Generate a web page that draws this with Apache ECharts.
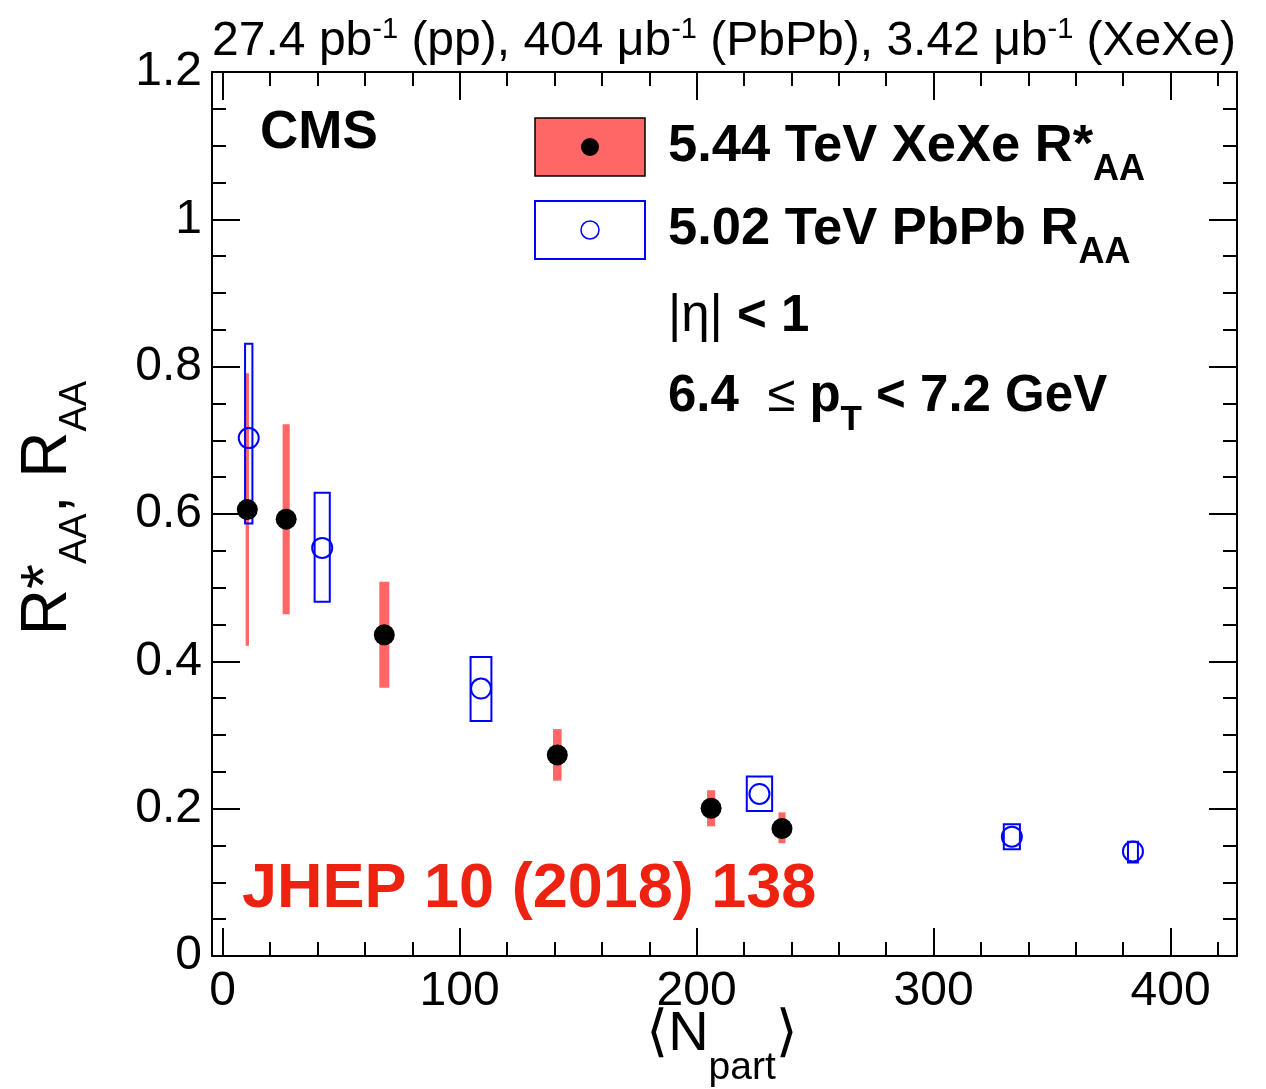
<!DOCTYPE html>
<html>
<head>
<meta charset="utf-8">
<script src="https://cdn.jsdelivr.net/npm/echarts@6/dist/echarts.min.js"></script>
<style>
html, body { margin: 0; padding: 0; background: #fff; }
#main { width: 1266px; height: 1089px; }
</style>
</head>
<body>
<div id="main"></div>
<script>
// XeXe 5.44 TeV, R*AA vs <Npart>
const xeNpart = [10.4, 26.8, 68.2, 141.2, 206.1, 236.0];
const xeRaa = [0.606, 0.593, 0.436, 0.273, 0.2005, 0.173];
const xeErrLow = [0.421, 0.464, 0.364, 0.238, 0.176, 0.153];
const xeErrHigh = [0.791, 0.722, 0.508, 0.308, 0.225, 0.195];
const xeNpartErr = [0.7, 1.5, 2.1, 1.8, 1.7, 1.5];

// PbPb 5.02 TeV, RAA vs <Npart>
const pbNpart = [11.0, 42.0, 109.0, 226.5, 333.0, 384.1];
const pbRaa = [0.703, 0.554, 0.363, 0.220, 0.162, 0.142];
const pbSysLow = [0.587, 0.481, 0.319, 0.197, 0.145, 0.127];
const pbSysHigh = [0.831, 0.629, 0.406, 0.2435, 0.179, 0.155];
const pbNpartErr = [1.55, 3.2, 4.4, 5.35, 3.4, 2.1];

// Axis ticks
const xMajorTicks = [0, 100, 200, 300, 400];
const xMinorTicks = [20, 40, 60, 80, 120, 140, 160, 180, 220, 240, 260, 280, 320, 340, 360, 380, 420];

const FONT = '"Liberation Sans", Helvetica, Arial, sans-serif';
const RED = '#ff6666';
const BLUE = '#0000ff';

const chart = echarts.init(document.getElementById('main'));

const gridBox = { left: 212, right: 29, top: 72, bottom: 133 };
const lineStyle = { color: '#000', width: 2 };

function xAxisFor(grid, position, ticks, len, showLine, showLabel) {
    return {
        type: 'value',
        gridIndex: grid,
        position: position,
        min: -4.5,
        max: 428,
        axisLine: { show: showLine, onZero: false, lineStyle: lineStyle },
        axisTick: { show: true, inside: true, length: len, customValues: ticks, lineStyle: lineStyle },
        axisLabel: {
            show: showLabel,
            customValues: ticks,
            fontSize: 48,
            fontFamily: FONT,
            color: '#000',
            margin: 12
        },
        splitLine: { show: false }
    };
}

function yAxisFor(grid, position, showLabel, show) {
    return {
        type: 'value',
        gridIndex: grid,
        position: position,
        show: show,
        min: 0,
        max: 1.2,
        interval: 0.2,
        axisLine: { show: true, onZero: false, lineStyle: lineStyle },
        axisTick: { show: true, inside: true, length: 28, lineStyle: lineStyle },
        minorTick: { show: true, splitNumber: 4, length: 14, lineStyle: lineStyle },
        axisLabel: {
            show: showLabel,
            fontSize: 48,
            fontFamily: FONT,
            color: '#000',
            margin: 10
        },
        splitLine: { show: false },
        minorSplitLine: { show: false }
    };
}

const xeBars = xeNpart.map((n, i) => [n, xeErrLow[i], xeErrHigh[i], xeNpartErr[i]]);
const pbBoxes = pbNpart.map((n, i) => [n, pbSysLow[i], pbSysHigh[i], pbNpartErr[i]]);

function boxRenderer(style) {
    return function (params, api) {
        const x = api.value(0), lo = api.value(1), hi = api.value(2), dx = api.value(3);
        const p1 = api.coord([x - dx, hi]);
        const p2 = api.coord([x + dx, lo]);
        return {
            type: 'rect',
            shape: { x: p1[0], y: p1[1], width: p2[0] - p1[0], height: p2[1] - p1[1] },
            style: style
        };
    };
}

const main = { fontFamily: FONT, fontSize: 48, lineHeight: 56, fill: '#000' };
const sup = { fontFamily: FONT, fontSize: 29, lineHeight: 56, padding: [0, 0, 24, 0] };

const entB = { fontFamily: FONT, fontSize: 52.5, fontWeight: 'bold', lineHeight: 60 };
const entSub = { fontFamily: FONT, fontSize: 36, fontWeight: 'bold', lineHeight: 60, padding: [46, 0, 0, 0] };
const legB = { fontFamily: FONT, fontSize: 51, fontWeight: 'bold', lineHeight: 60 };
const legR = { fontFamily: FONT, fontSize: 51, lineHeight: 60 };
const legSub = { fontFamily: FONT, fontSize: 35, fontWeight: 'bold', lineHeight: 60, padding: [46, 0, 0, 0] };

const option = {
    animation: false,
    backgroundColor: '#fff',
    grid: [
        Object.assign({}, gridBox),
        Object.assign({}, gridBox)
    ],
    xAxis: [
        xAxisFor(0, 'bottom', xMajorTicks, 28, true, true),
        xAxisFor(0, 'top', xMajorTicks, 28, true, false),
        xAxisFor(1, 'bottom', xMinorTicks, 14, false, false),
        xAxisFor(1, 'top', xMinorTicks, 14, false, false)
    ],
    yAxis: [
        yAxisFor(0, 'left', true, true),
        yAxisFor(0, 'right', false, true),
        yAxisFor(1, 'left', false, false)
    ],
    series: [
        {
            name: 'XeXe stat',
            type: 'custom',
            xAxisIndex: 0,
            yAxisIndex: 0,
            z: 2,
            renderItem: boxRenderer({ fill: RED }),
            encode: { x: 0, y: [1, 2] },
            data: xeBars
        },
        {
            name: 'PbPb sys',
            type: 'custom',
            xAxisIndex: 0,
            yAxisIndex: 0,
            z: 3,
            renderItem: boxRenderer({ fill: 'none', stroke: BLUE, lineWidth: 2 }),
            encode: { x: 0, y: [1, 2] },
            data: pbBoxes
        },
        {
            name: '5.02 TeV PbPb RAA',
            type: 'scatter',
            xAxisIndex: 0,
            yAxisIndex: 0,
            z: 4,
            symbol: 'circle',
            symbolSize: 20,
            itemStyle: { color: 'rgba(0,0,0,0)', borderColor: BLUE, borderWidth: 2, opacity: 1 },
            data: pbNpart.map((n, i) => [n, pbRaa[i]])
        },
        {
            name: '5.44 TeV XeXe R*AA',
            type: 'scatter',
            xAxisIndex: 0,
            yAxisIndex: 0,
            z: 5,
            symbol: 'circle',
            symbolSize: 21,
            itemStyle: { color: '#000', opacity: 1 },
            data: xeNpart.map((n, i) => [n, xeRaa[i]])
        }
    ],
    graphic: [
        // luminosity header
        {
            type: 'text', x: 1236, y: 42, z: 10,
            style: {
                text: '{m|27.4 pb}{s|-1}{m| (pp), 404 μb}{s|-1}{m| (PbPb), 3.42 μb}{s|-1}{m| (XeXe)}',
                align: 'right', verticalAlign: 'middle',
                rich: { m: main, s: sup }
            }
        },
        // CMS
        {
            type: 'text', x: 260, y: 133, z: 10,
            style: {
                text: 'CMS', font: 'bold 53px ' + FONT, fill: '#000',
                align: 'left', verticalAlign: 'middle'
            }
        },
        // legend boxes
        {
            type: 'rect', z: 10,
            shape: { x: 535, y: 118, width: 110, height: 58 },
            style: { fill: RED, stroke: '#000', lineWidth: 1.5 }
        },
        {
            type: 'circle', z: 11,
            shape: { cx: 590, cy: 147, r: 9 },
            style: { fill: '#000' }
        },
        {
            type: 'rect', z: 10,
            shape: { x: 535, y: 201, width: 110, height: 58 },
            style: { fill: 'none', stroke: BLUE, lineWidth: 2 }
        },
        {
            type: 'circle', z: 11,
            shape: { cx: 590, cy: 230, r: 9 },
            style: { fill: 'none', stroke: BLUE, lineWidth: 1.5 }
        },
        {
            type: 'text', x: 668, y: 147, z: 10,
            style: {
                text: '{b|5.44 TeV XeXe R*}{s|AA}',
                align: 'left', verticalAlign: 'middle',
                rich: { b: entB, s: entSub }
            }
        },
        {
            type: 'text', x: 668, y: 230, z: 10,
            style: {
                text: '{b|5.02 TeV PbPb R}{s|AA}',
                align: 'left', verticalAlign: 'middle',
                rich: { b: entB, s: entSub }
            }
        },
        {
            type: 'text', x: 668, y: 317, z: 10,
            style: {
                text: '{r||η|}{b| < 1}',
                align: 'left', verticalAlign: 'middle',
                rich: { r: legR, b: legB }
            }
        },
        {
            type: 'text', x: 668, y: 397, z: 10,
            style: {
                text: '{b|6.4  }{r|≤}{b| p}{s|T}{b| < 7.2 GeV}',
                align: 'left', verticalAlign: 'middle',
                rich: { b: legB, r: legR, s: legSub }
            }
        },
        // journal reference
        {
            type: 'text', x: 242, y: 890, z: 10,
            style: {
                text: 'JHEP 10 (2018) 138', font: 'bold 63px ' + FONT, fill: '#ee2211',
                align: 'left', verticalAlign: 'middle'
            }
        },
        // x axis title
        {
            type: 'text', x: 722, y: 1035, z: 10,
            style: {
                text: '{m|⟨N}{s|part}{m|⟩}',
                align: 'center', verticalAlign: 'middle',
                rich: {
                    m: { fontFamily: FONT + ', "DejaVu Sans"', fontSize: 56, lineHeight: 64 },
                    s: { fontFamily: FONT, fontSize: 39, lineHeight: 64, padding: [66, 0, 0, 0] }
                }
            }
        },
        // y axis title
        {
            type: 'text', x: 48, y: 508, z: 10, rotation: Math.PI / 2,
            style: {
                text: '{m|R*}{s|AA}{m|, R}{s|AA}',
                align: 'center', verticalAlign: 'middle',
                rich: {
                    m: { fontFamily: FONT, fontSize: 64, lineHeight: 72 },
                    s: { fontFamily: FONT, fontSize: 38, lineHeight: 72, padding: [56, 0, 0, 0] }
                }
            }
        }
    ]
};

chart.setOption(option);
window.addEventListener('resize', function () {
    chart.resize();
});
</script>
</body>
</html>
